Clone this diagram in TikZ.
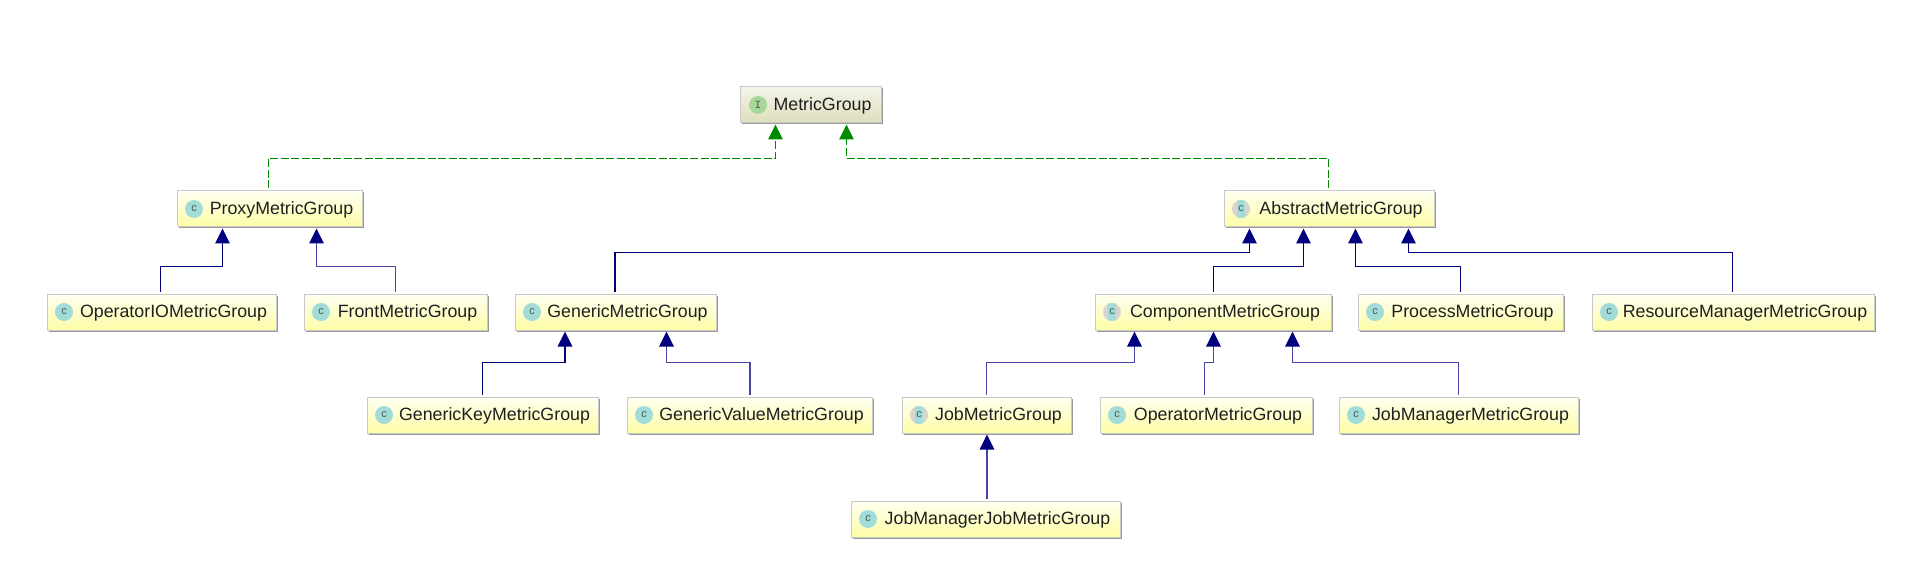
\documentclass[tikz,border=0pt]{standalone}
\usepackage{fontspec}
\setmainfont{Liberation Sans}
\setmonofont{Liberation Mono}
\usepackage{tikz}
\usetikzlibrary{arrows.meta}
\usetikzlibrary{positioning}
\usetikzlibrary{shadows}
\definecolor{boxedge}{HTML}{C9C9C9}
\definecolor{boxshadow}{HTML}{9A9A9A}
\definecolor{classtop}{HTML}{FFFFF2}
\definecolor{classbottom}{HTML}{FDFDA6}
\definecolor{roottop}{HTML}{F4F4EA}
\definecolor{rootbottom}{HTML}{DEDEBC}
\definecolor{classteal}{HTML}{A2DCD8}
\definecolor{abstractgray}{HTML}{D6D6CE}
\definecolor{rootgreen}{HTML}{A8D698}
\definecolor{icontext}{HTML}{4A5A5A}
\definecolor{extendblue}{HTML}{00007F}
\definecolor{thinblue}{HTML}{4545A5}
\definecolor{implgreen}{HTML}{008A00}
\newcommand{\mglabel}[1]{\hspace*{23pt}#1}
\tikzset{
    classbox/.style={
           rectangle,
           draw=boxedge, line width=1pt,
           top color=classtop, bottom color=classbottom,
           general shadow={shadow xshift=1.5pt, shadow yshift=-1.5pt, fill=boxshadow},
           minimum height=36pt,
           inner sep=0pt,
           text height=15pt, text depth=3.5pt,
           text=black!88,
           font=\fontsize{17.8}{20}\selectfont,
           },
    rootbox/.style={classbox, top color=roottop, bottom color=rootbottom},
    classicon/.style={
           circle, fill=classteal, inner sep=0pt, minimum size=18pt,
           text=icontext, font=\fontsize{11}{11}\selectfont,
           },
    abstracticon/.style={
           classicon, fill=abstractgray,
           path picture={\fill[classteal]
               ([xshift=-4pt]path picture bounding box.south) rectangle
               ([xshift=4pt]path picture bounding box.north);},
           },
    rooticon/.style={classicon, fill=rootgreen, font=\ttfamily\fontsize{11}{11}\selectfont},
    extends/.style={
           draw=extendblue, line width=1.3pt, shorten <=2pt, shorten >=1pt,
           -{Triangle[width=14.5pt,length=15pt,color=extendblue]},
           },
    extendsthin/.style={extends, draw=thinblue},
    implements/.style={
           draw=implgreen, line width=1.3pt, shorten <=2pt, shorten >=1pt,
           dash pattern=on 8pt off 2.5pt,
           -{Triangle[width=14.5pt,length=15pt,color=implgreen]},
           },
}
\begin{document}
\begin{tikzpicture}[x=1pt,y=1pt]
      \useasboundingbox (0,0) rectangle (1920,574);
      \node[rootbox, minimum width=141pt, anchor=west] (metric) at (740,469) {\mglabel{MetricGroup}};

      \node[classbox, minimum width=185pt, anchor=west] (proxy) at (177,365) {\mglabel{ProxyMetricGroup}};
      \node[classbox, minimum width=210pt, anchor=west] (abstract) at (1224,365) {\mglabel{AbstractMetricGroup}};

      \node[classbox, minimum width=229pt, anchor=west] (operator_io) at (47,262) {\mglabel{OperatorIOMetricGroup}};
      \node[classbox, minimum width=183pt] (front) [right=27pt of operator_io] {\mglabel{FrontMetricGroup}};
      \node[classbox, minimum width=201pt] (generic) [right=27pt of front] {\mglabel{GenericMetricGroup}};
      \node[classbox, minimum width=236pt, anchor=west] (component) at (1095,262) {\mglabel{ComponentMetricGroup}};
      \node[classbox, minimum width=205pt] (process) [right=26pt of component] {\mglabel{ProcessMetricGroup}};
      \node[classbox, minimum width=282pt] (resource) [right=28pt of process] {\mglabel{ResourceManagerMetricGroup}};

      \node[classbox, minimum width=231pt, anchor=west] (generic_key) at (367,159) {\mglabel{GenericKeyMetricGroup}};
      \node[classbox, minimum width=245pt] (generic_value) [right=28pt of generic_key] {\mglabel{GenericValueMetricGroup}};
      \node[classbox, minimum width=169pt, anchor=west] (job) at (902,159) {\mglabel{JobMetricGroup}};
      \node[classbox, minimum width=212pt] (operator) [right=28pt of job] {\mglabel{OperatorMetricGroup}};
      \node[classbox, minimum width=239pt] (job_manager) [right=26pt of operator] {\mglabel{JobManagerMetricGroup}};

      \node[classbox, minimum width=269pt, anchor=west] (job_manager_job) at (851,55) {\mglabel{JobManagerJobMetricGroup}};

      \node[rooticon] (metric_icon) at ([xshift=18pt]metric.west) {I};
      \foreach \cls in {proxy,operator_io,front,generic,process,resource,generic_key,generic_value,operator,job_manager,job_manager_job}
          \node[classicon] (\cls_icon) at ([xshift=17pt]\cls.west) {c};
      \foreach \cls in {abstract,component,job}
          \node[abstracticon] (\cls_icon) at ([xshift=17pt]\cls.west) {c};

      \path[implements] ([xshift=-1.5pt]proxy.north) -- ++(0,32) -| ([xshift=-35.5pt]metric.south);
      \path[implements] ([xshift=-1pt]abstract.north) -- ++(0,32) -| ([xshift=35.5pt]metric.south);

      \path[extends] ([xshift=-1.5pt]operator_io.north) -- ++(0,27) -| ([xshift=-47.5pt]proxy.south);
      \path[extendsthin] ([xshift=-.5pt]front.north) -- ++(0,27) -| ([xshift=46.5pt]proxy.south);

      \path[extends] ([xshift=-1pt]generic.north) -- ++(0,41) -| ([xshift=-80pt]abstract.south);
      \path[extends] (component.north) -- ++(0,27) -| ([xshift=-26pt]abstract.south);
      \path[extends] ([xshift=-.5pt]process.north) -- ++(0,27) -| ([xshift=26pt]abstract.south);
      \path[extends] ([xshift=-1pt]resource.north) -- ++(0,41) -| ([xshift=79pt]abstract.south);

      \path[extends] ([xshift=-.5pt]generic_key.north) -- ++(0,34) -| ([xshift=-51pt]generic.south);
      \path[extendsthin] (generic_value.north) -- ++(0,34) -| ([xshift=50.5pt]generic.south);

      \path[extendsthin] ([xshift=-.5pt]job.north) -- ++(0,34) -| ([xshift=-79pt]component.south);
      \path[extendsthin] ([xshift=-2pt]operator.north) -- ++(0,34) -| (component.south);
      \path[extendsthin] ([xshift=-.5pt]job_manager.north) -- ++(0,34) -| ([xshift=79pt]component.south);

      \path[extendsthin] (job_manager_job.north -| job.south) -- (job.south);
      \end{tikzpicture}
\end{document}
